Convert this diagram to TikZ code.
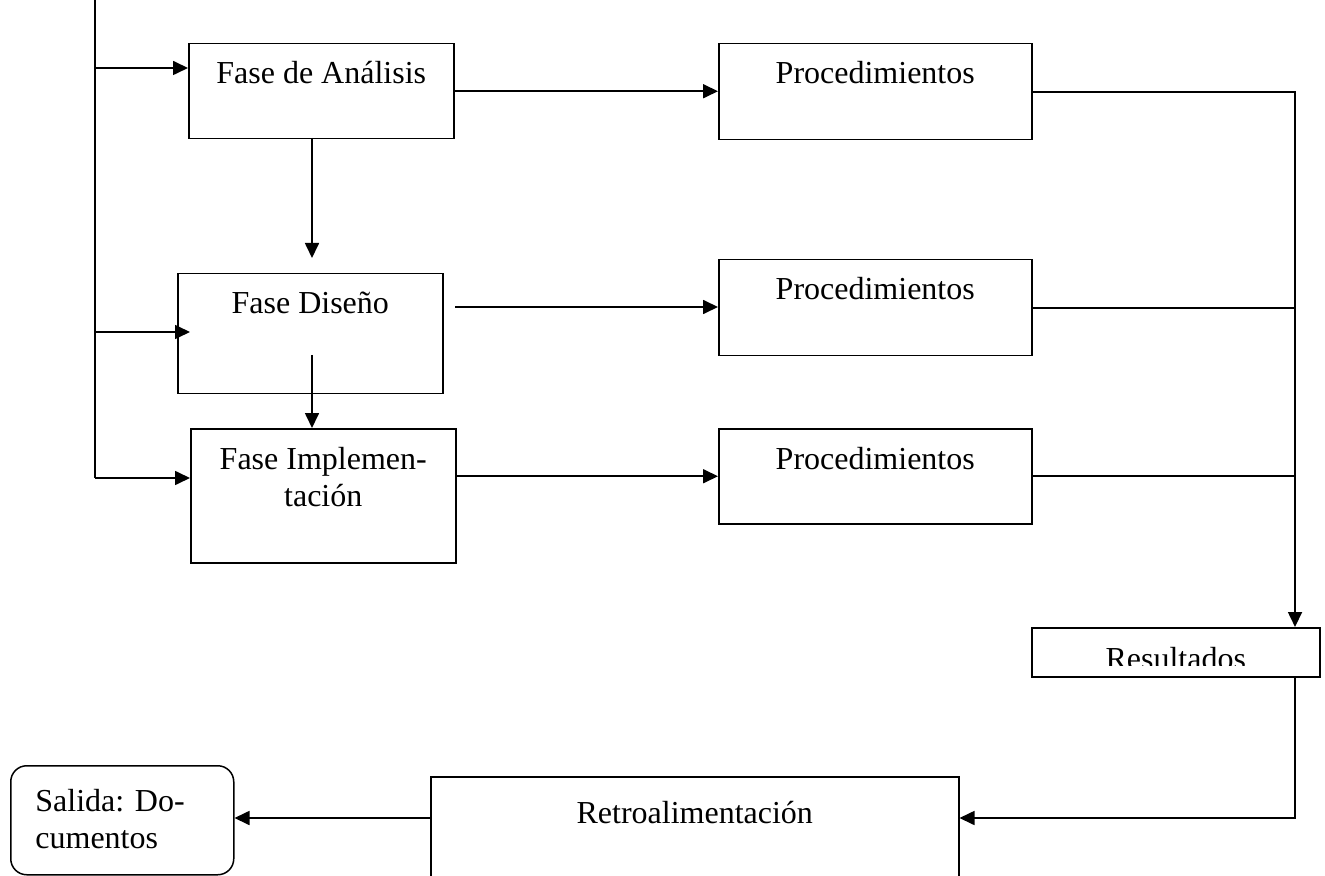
\documentclass[tikz,border=0pt]{standalone}
\usepackage{fontspec}
\setmainfont{Liberation Serif}
\usetikzlibrary{arrows.meta,calc}
\begin{document}
\begin{tikzpicture}[x=0.5pt,y=-0.5pt,
  font=\fontsize{16}{18.5}\selectfont,
  box/.style={draw, line width=0.75pt, inner sep=0pt, anchor=north west},
  pbox/.style={box, minimum width=156.5pt, minimum height=48pt},
  fbox/.style={box, minimum width=132.5pt},
  lbl/.style={anchor=base, yshift=-20.5pt, inner sep=0pt, align=center},
  conn/.style={line width=0.85pt},
  arr/.style={conn, -{Triangle[length=7.5pt,width=7pt]}}]
\clip (0,0) rectangle (1325,876);
\fill[white] (0,0) rectangle (1325,876);

% phase boxes
\node[fbox, minimum height=47.5pt, label={[lbl]north:Fase de Análisis}] (fa) at (188,43) {};
\node[fbox, minimum height=60pt, label={[lbl]north:Fase Diseño}] (fd) at (177,273) {};
\node[fbox, minimum height=67pt, label={[lbl, yshift=-18.5pt]north:Fase Implemen-\\tación}] (fi) at (190,428) {};

% procedure boxes
\node[pbox, label={[lbl]north:Procedimientos}] (p1) at (718,43) {};
\node[pbox, label={[lbl]north:Procedimientos}] (p2) at (718,259) {};
\node[pbox, minimum height=47.5pt, label={[lbl]north:Procedimientos}] (p3) at (718,428) {};

% results
\node[box, minimum width=144pt, minimum height=24.5pt] (res) at (1031,627) {};
\begin{scope}
  \clip (1031,627) rectangle (1319,665);
  \node[anchor=base, inner sep=0pt] (resT) at ($(res.north)+(0,42)$) {Resultados};
\end{scope}

% feedback and output
\node[box, minimum width=264pt, minimum height=65pt, label={[lbl, yshift=-3pt]north:Retroalimentación}] (ret) at (430,776) {};
\node[box, rounded corners=8pt, minimum width=111.5pt, minimum height=54.5pt,
  label={[anchor=base west, inner sep=0pt, align=left, xshift=12.5pt, yshift=-41.5pt]north west:Salida: Do-\\cumentos}] (sal) at (10,765) {};

% left feed line
\coordinate (ltop) at (95,0);
\coordinate (lbot) at (95,478);
\draw[conn] (ltop) -- (lbot);
\coordinate (fain) at (95,68);
\draw[arr] (fain) -- (fain -| fa.west);
\coordinate (fdin) at (95,332);
\draw[arr] (fdin) -- (190,332);
\draw[arr] (lbot) -- (lbot -| fi.west);

% vertical flow
\coordinate (faout) at (312,138);
\draw[arr] (faout) -- (312,258);
\coordinate (fdout) at (312,355);
\draw[arr] (fdout) -- (fdout |- fi.north);

% to procedures
\draw[arr] (fa.east) -- (fa.east -| p1.west);
\coordinate (fdr) at (455,307);
\draw[arr] (fdr) -- (fdr -| p2.west);
\draw[arr] (fi.east |- p3.west) -- (p3.west);

% right collector
\coordinate (rtop) at (1295,92);
\draw[conn] (p1.east |- rtop) -- (rtop) -- (rtop |- 0,600);
\draw[arr] (rtop |- 0,600) -- (rtop |- res.north);
\draw[conn] (p2.east) -- (p2.east -| rtop);
\draw[conn] (p3.east) -- (p3.east -| rtop);

% results to feedback to output
\coordinate (rbend) at (1295,818);
\draw[arr] (res.south -| rbend) -- (rbend) -- (rbend -| ret.east);
\coordinate (retl) at (430,818);
\draw[arr] (retl) -- (retl -| sal.east);
\end{tikzpicture}
\end{document}
